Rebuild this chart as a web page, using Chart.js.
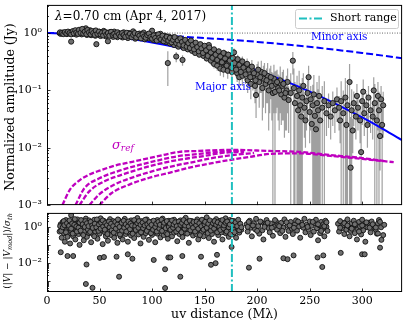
<!DOCTYPE html>
<html><head><meta charset="utf-8">
<script src="https://cdn.jsdelivr.net/npm/chart.js@4.4.1/dist/chart.umd.min.js"></script>
<style>
html,body{margin:0;padding:0;background:#fff;}
#wrap{position:relative;width:407px;height:325px;overflow:hidden;background:#fff}
canvas{position:absolute;left:0}
#c1{top:0}
#c2{top:208px}
</style></head><body>
<div id="wrap"><canvas id="c1" width="407" height="210"></canvas><canvas id="c2" width="407" height="117"></canvas></div>
<script>
// ---------- data ----------
const xTicks = [0, 50, 100, 150, 200, 250, 300];
const topYTicks = [0.001, 0.01, 0.1, 1];
const botYTicks = [0.01, 1];
const shortRange = 176;

// model curves
const modelU    = [0, 20, 40, 60, 80, 100, 120, 140, 160, 180, 200, 220, 240, 260, 280, 300, 320, 340];
const minorAxis = [1, 0.996, 0.986, 0.969, 0.945, 0.915, 0.880, 0.841, 0.797, 0.751, 0.702, 0.652, 0.600, 0.549, 0.499, 0.451, 0.404, 0.359];
const majorAxis = [1, 0.985, 0.942, 0.873, 0.786, 0.686, 0.582, 0.478, 0.381, 0.296, 0.222, 0.162, 0.115, 0.0785, 0.0523, 0.0338, 0.0212, 0.0129];

// sigma_ref curves [uv, value]
const sigRefA = [[14.7,0.00100],[21.4,0.00181],[30.9,0.00270],[40.4,0.00342],[49.9,0.00398],[64.2,0.00485],[81.3,0.0057],[106.9,0.0072],[126,0.0085],[145,0.0088],[173.5,0.0092],[211.6,0.0088],[240,0.0085],[268.5,0.0075],[297,0.0067],[320,0.0059]];
const sigRefB = [[27.1,0.00100],[35.6,0.00197],[49.9,0.00293],[68.9,0.00398],[87.9,0.00502],[106.9,0.0061],[126,0.0072],[145,0.0078],[164,0.0085],[183,0.0088]];
const sigRefC = [[30.9,0.00100],[40.4,0.00175],[54.7,0.0026],[73.7,0.0035],[92.7,0.0045],[111.7,0.0055],[130.7,0.0064],[149.7,0.0072],[168.7,0.0082],[187.6,0.0085]];
const sigRefD = [[40.4,0.00100],[49.9,0.00155],[64.2,0.00228],[83.2,0.00312],[102.2,0.00398],[121.2,0.00485],[140.2,0.0057],[159.2,0.0067],[178.2,0.0075],[197.1,0.0081]];
const sigRefE = [[49.9,0.00100],[61.3,0.00161],[78.4,0.00228],[97.4,0.00300],[116.4,0.00366],[135.5,0.0045],[154.5,0.0053],[173.5,0.0061],[192.5,0.0069],[211.6,0.0078],[240,0.0080],[270,0.0072],[300,0.0064],[330,0.0056]];

// visibilities [uv (Mλ), amplitude (Jy), error]
const visTop = [
[12,1.00,.02],[13,0.97,.02],[15,1.02,.02],[16,0.99,.02],[18,1.01,.02],[19,0.96,.02],[21,1.03,.02],[22,0.98,.02],[23,0.71,.03],[24,1.05,.03],
[26,0.97,.02],[27,1.01,.02],[28,0.94,.03],[29,1.07,.03],[31,0.99,.02],[32,1.10,.03],[33,0.95,.03],[34,1.03,.03],[35,1.15,.03],[36,1.00,.03],
[37,1.21,.04],[38,0.93,.03],[39,1.06,.03],[40,0.98,.03],[41,1.12,.03],[42,0.92,.03],[43,1.03,.03],[44,0.96,.03],[45,1.08,.03],[46,0.90,.03],
[47,0.64,.03],[48,1.02,.03],[49,0.94,.03],[50,1.05,.03],[51,0.89,.03],[52,0.99,.03],[53,0.93,.03],[54,1.09,.03],[55,0.97,.03],[56,0.88,.03],
[57,1.02,.03],[58,0.72,.04],[59,0.95,.03],[60,1.04,.03],[61,0.90,.03],[62,0.98,.03],[63,0.86,.03],[64,1.06,.03],[65,0.93,.03],[66,0.99,.03],
[67,0.85,.03],[68,1.01,.03],[69,0.91,.03],[70,0.96,.03],[72,0.84,.03],[73,1.03,.03],[74,0.89,.03],[76,0.95,.03],[77,0.82,.03],[78,1.00,.03],
[80,0.88,.03],[81,0.93,.03],[82,1.07,.04],[84,0.80,.03],[85,0.94,.03],[86,0.87,.03],[88,0.98,.03],[89,0.83,.03],[90,0.91,.03],[92,1.02,.04],
[93,0.78,.03],[94,0.88,.03],[96,0.95,.03],[97,0.81,.03],[98,0.90,.03],[100,1.10,.04],[101,0.76,.03],[102,0.86,.03],[104,0.93,.03],[105,0.79,.03],
[106,0.88,.03],[108,0.97,.04],[109,0.74,.03],[110,0.84,.03],[112,0.90,.04],[113,0.70,.03],[114,0.81,.03],[115,0.30,.18],[116,0.87,.04],[117,0.66,.03],
[118,0.77,.03],[120,0.84,.04],[121,0.62,.03],[122,0.73,.03],[123,0.39,.08],[124,0.80,.04],[125,0.58,.04],[126,0.69,.04],[128,0.76,.04],[129,0.34,.07],
[130,0.55,.04],[131,0.65,.04],[132,0.72,.04],[134,0.52,.04],[135,0.61,.04],[136,0.70,.04],[138,0.49,.04],[139,0.58,.04],[140,0.66,.04],[141,0.45,.04],
[142,0.54,.04],[144,0.62,.05],[145,0.42,.04],[146,0.51,.04],[148,0.58,.05],[149,0.40,.04],[150,0.47,.05],[151,0.55,.05],[152,0.36,.04],[153,0.44,.05],
[154,0.62,.06],[155,0.41,.05],[156,0.33,.05],[157,0.50,.05],[158,0.38,.05],[159,0.29,.05],[160,0.45,.06],[161,0.35,.05],[162,0.27,.05],[163,0.41,.06],
[164,0.32,.05],[165,0.24,.06],[166,0.38,.06],[167,0.30,.06],[168,0.23,.06],[169,0.44,.07],[170,0.28,.06],[171,0.35,.06],[172,0.22,.06],[173,0.31,.06],
[174,0.26,.06],[175,0.40,.07],[176,0.21,.06],[177,0.29,.06],[178,0.46,.08],[179,0.25,.06],[180,0.33,.07],[181,0.20,.06],[182,0.27,.06],[183,0.17,.06],
[184,0.24,.07],[185,0.30,.07],[186,0.18,.06],[188,0.22,.07],[190,0.26,.07],[191,0.15,.06],[192,0.20,.07],[194,0.13,.06],[195,0.23,.08],[196,0.17,.07],
[198,0.12,.06],[199,0.083,.05],[200,0.19,.10],[202,0.14,.09],[204,0.21,.12],[205,0.11,.08],[206,0.16,.11],[208,0.13,.09],[210,0.18,.12],[211,0.10,.08],
[212,0.14,.10],[214,0.12,.09],[215,0.09,.11],[216,0.16,.12],[217,0.094,.12],[218,0.13,.09],[220,0.11,.08],[222,0.15,.11],[223,0.085,.06],[224,0.12,.09],
[226,0.075,.06],[228,0.10,.08],[229,0.14,.10],[230,0.068,.05],[232,0.09,.11],[234,0.33,.14],[235,0.11,.13],[236,0.06,.08],[238,0.08,.10],[239,0.045,.07],
[240,0.10,.12],[241,0.055,.08],[242,0.035,.06],[243,0.075,.09],[244,0.12,.08],[245,0.05,.035],[246,0.03,.02],[247,0.065,.045],[248,0.09,.06],[249,0.17,.10],
[250,0.042,.03],[251,0.07,.05],[252,0.026,.018],[253,0.055,.07],[254,0.085,.10],[255,0.036,.05],[256,0.021,.04],[257,0.06,.08],[258,0.045,.06],[259,0.08,.10],
[260,0.03,.05],[262,0.05,.07],[264,0.065,.08],[266,0.04,.024],[268,0.055,.033],[270,0.035,.021],[272,0.06,.036],[274,0.045,.027],[276,0.07,.042],[278,0.05,.03],
[279,0.03,.018],[280,0.065,.08],[282,0.04,.06],[284,0.075,.09],[285,0.025,.04],[286,0.055,.07],[288,0.14,.15],[289,0.0045,.03],[290,0.045,.06],[291,0.02,.012],
[292,0.06,.036],[294,0.035,.021],[295,0.08,.05],[296,0.05,.03],[298,0.03,.018],[299,0.0084,.02],[300,0.065,.04],[301,0.095,.06],[302,0.04,.024],[304,0.055,.033],
[305,0.025,.015],[306,0.075,.045],[308,0.045,.027],[310,0.035,.021],[311,0.10,.07],[312,0.06,.07],[314,0.03,.04],[315,0.08,.06],[316,0.045,.05],[317,0.016,.012],
[318,0.07,.05],[319,0.025,.03],[320,0.055,.04],
[12.5,1.03,.02],[14,1.00,.02],[15.5,0.96,.02],[17,1.04,.02],[18.5,0.98,.02],[20,1.06,.02],[21.5,1.00,.02],[23,0.95,.02],[24.5,1.08,.03],[25.5,0.99,.02],
[27,1.12,.03],[28,1.02,.02],[29.5,0.97,.02],[30.5,1.14,.03],[32,1.01,.02],[33.5,1.18,.03],[34.5,0.98,.03],[36,1.06,.03],[37.5,0.96,.03],[38.5,1.13,.03],
[40,1.03,.03],[41.5,0.95,.03],[42.5,1.08,.03],[44,1.00,.03],[45.5,0.93,.03],[46.5,1.11,.03],[48,0.97,.03],[49.5,1.06,.03],[51,0.95,.03],[52.5,1.02,.03],
[53.5,0.91,.03],[55,1.04,.03],[56.5,0.94,.03],[58,1.00,.03],[59.5,0.90,.03],[61,1.05,.03],[62.5,0.93,.03],[64,0.97,.03],[65.5,0.89,.03],[67,1.03,.03],
[68.5,0.95,.03],[70,0.88,.03],[71.5,1.00,.03],[73,0.92,.03],[74.5,0.86,.03],[76,1.01,.03],[77.5,0.90,.03],[79,0.97,.03],[80.5,0.85,.03],[82,0.93,.03],
[83.5,1.00,.03],[85,0.84,.03],[86.5,0.96,.03],[88,0.90,.03],[89.5,0.81,.03],[91,0.95,.03],[92.5,0.87,.03],[94,0.83,.03],[95.5,0.92,.03],[97,0.98,.04],
[98.5,0.85,.03],[100,0.80,.03],[101.5,0.91,.03],[103,0.82,.03],[104.5,0.74,.03],[106,0.95,.04],[107,0.83,.03],[108.5,0.78,.03],[110,0.90,.04],[111,0.72,.03],
[112.5,0.80,.03],[114,0.86,.04],[115.5,0.74,.03],[117,0.82,.04],[118.5,0.69,.03],[120,0.76,.04],[121.5,0.85,.04],[123,0.67,.04],[124.5,0.74,.04],[126,0.63,.04],
[127,0.81,.04],[128.5,0.70,.04],[130,0.61,.04],[131.5,0.76,.04],[133,0.58,.04],[134.5,0.67,.04],[136,0.55,.04],[137,0.74,.04],[138.5,0.62,.04],[140,0.52,.04],
[141.5,0.68,.04],[143,0.57,.04],[144.5,0.48,.04],[146,0.64,.05],[147,0.54,.04],[148.5,0.45,.04],[150,0.60,.05],[151.5,0.50,.05],[153,0.40,.05],[154.5,0.56,.05],
[156,0.46,.05],[157.5,0.37,.05],[159,0.52,.05],[160.5,0.42,.05],[162,0.34,.05],[163.5,0.48,.06],[165,0.39,.06],[166.5,0.31,.05],[168,0.45,.06],[169.5,0.36,.06],
[171,0.27,.06],[172.5,0.42,.06],[174,0.33,.06],[175.5,0.25,.06],[177,0.37,.06],[178.5,0.30,.06],[180,0.23,.06],[181.5,0.35,.07],[183,0.28,.07],[184.5,0.21,.06],
[186,0.32,.07],[187,0.25,.07],[189,0.19,.06],[190.5,0.29,.07],[192,0.23,.07],[193.5,0.17,.06],[195,0.26,.08],[197,0.20,.07],[198.5,0.15,.07],[201,0.23,.09],
[203,0.17,.08],[207,0.20,.10],[209,0.15,.09],[213,0.17,.10],[219,0.14,.09],[221,0.10,.08],[225,0.13,.10],[227,0.09,.07]
];

// normalized residuals [uv (Mλ), |V|-|Vmod| / sigma_th]
const residBot = [
[12,0.55],[13,1.4],[14,0.8],[14,0.25],[15,1.9],[16,0.45],[17,1.1],[17,0.15],[18,2.4],[19,0.7],[20,1.3],[20,0.35],[21,0.9],[22,1.7],[22,0.12],[23,4.5],[23,0.6],[24,1.2],[25,0.3],[25,2.0],
[26,0.85],[27,1.5],[27,0.2],[28,0.65],[29,2.6],[29,1.0],[30,0.4],[30,1.6],
[31,0.1],[31,0.75],[32,1.25],[33,2.2],[33,0.5],[34,0.95],[35,0.18],[35,1.8],[36,0.6],[37,1.35],[37,2.9],[38,0.28],[38,0.85],[39,1.5],[40,0.45],[40,2.3],[41,1.05],[42,0.14],[42,0.7],[43,1.7],[44,0.38],[44,1.15],
[45,2.5],[46,0.55],[46,0.9],[47,1.45],[48,0.22],[48,2.0],[49,0.8],[50,1.25],[50,0.42],[51,3.0],[52,0.65],[52,1.6],[53,0.11],[54,1.0],[54,2.2],[55,0.5],[56,1.35],[56,0.3],[57,0.85],[58,1.9],[58,0.17],[59,1.1],[60,0.6],[60,2.7],
[61,0.35],[62,1.45],[62,0.9],[63,2.1],[64,0.25],[64,0.7],[65,1.2],[66,1.75],[66,0.45],[67,0.13],[68,1.0],[68,2.4],[69,0.55],[70,1.5],[70,0.3],[71,0.85],[72,1.95],[72,0.2],[73,1.15],[74,0.62],[74,2.8],[75,0.4],[76,1.3],[76,0.9],[77,0.15],[78,1.7],[78,0.5],[79,1.05],[80,2.3],[80,0.33],
[81,0.75],[82,1.4],[83,0.24],[83,0.95],[84,1.85],[85,0.55],[86,1.2],[86,3.1],[87,0.38],[88,0.8],[88,1.6],[89,0.12],[90,1.05],[90,2.1],[91,0.6],[92,1.35],[92,0.28],[93,0.9],[94,1.8],[94,0.45],[95,2.6],[96,0.7],[96,1.15],[97,0.19],[98,1.5],[98,0.52],[99,0.95],[100,2.0],[100,0.36],
[101,1.25],[102,0.65],[103,1.7],[103,0.14],[104,0.88],[105,2.4],[105,0.42],[106,1.1],[107,0.58],[108,1.55],[108,0.26],[109,0.82],[110,2.9],[110,1.3],[111,0.35],[112,0.72],[113,1.9],[113,0.5],[114,1.05],[115,0.22],[116,1.45],[116,2.2],[117,0.62],[118,0.95],[119,1.7],[119,0.3],[120,1.2],
[121,0.48],[121,2.5],[122,0.8],[123,1.4],[124,0.16],[124,0.68],[125,1.85],[126,1.0],[126,0.4],[127,2.3],[128,0.58],[129,1.25],[129,0.27],[130,0.9],[131,1.6],[132,0.45],[132,3.2],[133,1.1],[134,0.7],[135,0.13],[135,1.95],[136,0.52],[137,1.3],[138,0.85],[138,2.1],[139,0.33],[140,1.05],[140,0.6],
[141,1.7],[142,0.4],[143,2.6],[143,0.92],[144,0.2],[145,1.35],[146,0.65],[146,1.9],[147,0.48],[148,1.15],[149,2.3],[149,0.3],[150,0.8],[151,1.5],[152,0.56],[152,3.4],[153,1.0],[154,0.24],[155,1.75],[155,0.7],[156,1.25],[157,0.4],[158,2.0],[158,0.9],[159,0.15],[160,1.45],
[161,0.62],[161,2.7],[162,1.1],[163,0.35],[164,0.8],[164,1.6],[165,2.2],[166,0.5],[167,1.3],[167,0.2],[168,0.95],[169,1.85],[170,0.45],[170,3.0],[171,1.15],[172,0.68],[173,0.28],[173,1.5],[174,2.4],[175,0.85],[175,0.55],[176,1.7],[177,0.38],[177,1.05],[178,2.1],[179,0.6],[180,1.35],[180,0.25],
[181,0.9],[182,1.9],[183,0.48],[184,1.2],[185,0.7],
[190,1.4],[191,0.55],[193,2.2],[194,0.9],[195,0.3],[197,1.6],[198,0.75],[199,2.8],[201,1.1],[202,0.42],[204,1.8],[205,0.65],[206,0.2],[208,1.3],[209,2.4],[211,0.85],[212,0.5],[213,1.55],[215,0.32],[216,1.0],[218,2.0],[219,0.7],[220,1.25],[222,0.45],[223,1.7],[225,0.9],[226,2.6],[227,0.28],[229,1.15],[230,0.6],
[232,1.9],[233,0.8],[234,0.4],[236,1.4],[237,2.3],[238,0.62],[240,1.05],[241,0.25],[242,1.7],[244,0.9],[245,2.8],[246,0.5],[247,1.3],[249,0.7],[250,2.0],[251,0.35],[252,1.15],[254,0.55],[255,1.6],[256,2.5],[257,0.85],[258,0.18],[259,1.25],[260,0.45],[261,1.9],[262,0.75],[263,1.4],[264,0.3],[265,2.2],[266,1.0],[267,0.6],
[277,1.5],[278,0.55],[279,2.1],[281,0.85],[282,1.3],[283,0.4],[284,1.8],[285,0.7],[286,2.6],[287,1.1],[288,0.3],[289,0.6],[290,1.6],[291,0.9],[292,2.2],[293,0.45],[294,1.25],[295,0.2],[296,0.75],[297,1.9],[298,1.05],[299,0.38],[300,2.5],[301,0.65],[302,1.4],[303,0.15],[305,0.95],[306,1.7],[308,0.5],[309,2.0],[311,1.2],[312,0.8],[314,0.42],[315,1.55],[316,2.4],[318,0.95],[320,0.35],[321,1.3],
[12.5,1.1],[13.5,0.6],[15,0.95],[16,2.1],[16.5,1.25],[18,0.5],[19,1.6],[19.5,0.28],[21,1.15],[21.5,2.3],[23,0.8],[24,1.55],[24.5,0.42],[26,1.3],[26.5,2.7],[28,1.05],[28.5,0.55],[30,0.9],[31,1.75],[32,0.62],
[32.5,2.4],[34,1.4],[34.5,0.35],[36,1.0],[36.5,2.1],[38,1.6],[39,0.7],[39.5,1.1],[41,0.52],[41.5,1.9],[43,1.2],[43.5,0.88],[45,0.3],[45.5,1.5],[47,0.95],[47.5,2.6],[49,0.6],[49.5,1.35],[51,0.8],[51.5,1.7],
[53,2.3],[53.5,1.05],[55,0.7],[55.5,1.6],[57,1.25],[57.5,0.4],[59,2.0],[59.5,0.95],[61,1.5],[61.5,0.65],[63,1.1],[63.5,0.48],[65,1.9],[65.5,0.8],[67,1.35],[67.5,2.6],[69,1.0],[69.5,0.38],[71,1.7],[71.5,0.62],
[73,2.2],[73.5,0.9],[75,1.4],[75.5,0.55],[77,1.05],[77.5,2.0],[79,0.75],[79.5,1.55],[81,1.2],[81.5,0.42],[83,2.4],[84,1.1],[84.5,0.68],[86,1.6],[87,0.9],[87.5,2.1],[89,1.3],[89.5,0.5],[91,1.75],[91.5,0.85],
[93,1.2],[93.5,2.5],[95,0.6],[95.5,1.4],[97,0.95],[97.5,1.85],[99,0.45],[99.5,1.3],[101,0.7],[101.5,2.2],[103,1.0],[104,1.5],[104.5,0.55],[106,1.9],[107,0.8],[107.5,1.3],[109,2.5],[109.5,0.6],[111,1.15],[111.5,1.7],
[113,0.85],[114,2.1],[114.5,0.4],[116,1.0],[117,1.5],[117.5,0.7],[119,2.3],[120,0.9],[120.5,1.35],[122,1.8],[123,0.55],[123.5,1.1],[125,0.75],[125.5,2.0],[127,1.3],[128,0.5],[128.5,1.65],[130,2.4],[131,0.8],[131.5,1.2],
[133,1.75],[133.5,0.42],[135,1.05],[136,2.2],[136.5,0.65],[138,1.4],[139,0.9],[139.5,1.85],[141,0.55],[142,1.25],[142.5,2.0],[144,0.8],[145,1.6],[145.5,0.35],[147,1.1],[147.5,2.5],[149,0.7],[150,1.35],[150.5,1.9],[152,0.9],
[153,0.45],[153.5,1.5],[155,2.3],[156,0.62],[156.5,1.05],[158,1.6],[159,0.8],[159.5,2.1],[161,1.3],[162,0.5],[162.5,1.8],[164,1.0],[165,0.68],[165.5,1.5],[167,2.4],[168,0.85],[168.5,1.2],[170,1.7],[171,0.55],[171.5,2.0],
[173,0.95],[174,1.35],[174.5,0.4],[176,2.2],[177,0.75],[178,1.3],[178.5,0.5],[179.5,1.8],[181,1.1],[182,2.5],[183,0.65],[184,1.5],[185,0.95],
[191,1.0],[192,1.9],[196,1.2],[200,0.6],[203,2.0],[207,1.0],[210,1.7],[214,0.9],[217,2.4],[221,1.1],[224,0.6],[228,1.8],[231,1.2],[235,0.9],[239,2.0],[243,1.3],[248,1.0],[253,1.9],[258,1.4],[261,0.6],
[264,1.1],[266,1.8],[279,0.9],[283,1.6],[286,1.2],[290,0.8],[293,1.4],[297,0.55],[300,1.2],[304,1.8],[307,0.9],[310,1.4],[313,0.7],[317,1.9],
// outliers
[13.1,0.039],[19.5,0.024],[24.9,0.024],[37.6,0.0081],[37,0.00067],[43.3,0.00041],[50.3,0.019],[54.2,0.021],[66.2,0.022],[68.6,0.0017],[76.9,0.030],[81.3,0.017],[101.6,0.0145],[112.4,0.0044],[112.4,0.0004],[115.5,0.020],[117.4,0.020],[126.9,0.0017],[128.8,0.024],[146.6,0.022],
[156.1,0.0078],[160.5,0.0096],[161.8,0.028],[175.7,0.076],[192.2,0.0054],[202.3,0.017],[225,0.018],[229,0.016],[234.7,0.026],[257.5,0.020],[262,0.0059],[263,0.026],[279.6,0.036],[299.9,0.030],[302.4,0.030],[317,0.070],[318.3,0.19],[315,0.43],[313,0.92]
];

// ---------- helpers ----------
const FONT = 'DejaVu Serif';
const SUP = {'0':'\u2070','1':'\u00B9','2':'\u00B2','3':'\u00B3','4':'\u2074','-':'\u207B'};
function powLabel(v){ const e = Math.round(Math.log10(v)); return '10' + String(e).split('').map(c => SUP[c]).join(''); }
function logTickList(min, max){
  const out = [];
  for (let e = Math.floor(Math.log10(min)); e <= Math.ceil(Math.log10(max)); e++)
    for (let k = 1; k < 10; k++){ const v = k * Math.pow(10, e); if (v >= min * 0.999 && v <= max) out.push({v, major: k === 1}); }
  return out;
}
const frame = {
  id: 'frame',
  afterDraw(chart){
    const {ctx, chartArea: a, scales: {x, y}} = chart;
    ctx.save();
    ctx.strokeStyle = '#000'; ctx.lineWidth = 1;
    ctx.strokeRect(a.left + 0.5, a.top + 0.5, a.right - a.left - 1, a.bottom - a.top - 1);
    ctx.beginPath();
    xTicks.forEach(v => { const px = Math.round(x.getPixelForValue(v)) + 0.5; ctx.moveTo(px, a.bottom); ctx.lineTo(px, a.bottom - 3.5); });
    logTickList(y.min, y.max).forEach(t => { const py = Math.round(y.getPixelForValue(t.v)) + 0.5; ctx.moveTo(a.left, py); ctx.lineTo(a.left + (t.major ? 3.5 : 2), py); });
    ctx.lineWidth = 0.8; ctx.stroke();
    ctx.restore();
  }
};
const errorBars = {
  id: 'errorBars',
  beforeDatasetsDraw(chart){
    const {ctx, chartArea: a, scales: {x, y}} = chart;
    ctx.save();
    ctx.beginPath(); ctx.rect(a.left, a.top, a.right - a.left, a.bottom - a.top); ctx.clip();
    ctx.strokeStyle = 'rgba(128,128,128,0.75)'; ctx.lineWidth = 1.2;
    ctx.beginPath();
    visTop.forEach(([u, amp, err]) => {
      const px = x.getPixelForValue(u);
      const lo = amp - err;
      const ylo = lo > 0 ? y.getPixelForValue(lo) : a.bottom + 5;
      const yhi = y.getPixelForValue(amp + err);
      ctx.moveTo(px, ylo); ctx.lineTo(px, yhi);
    });
    ctx.stroke();
    ctx.restore();
  }
};
function drawPieces(ctx, pieces, cx, cy){
  let total = 0;
  pieces.forEach(p => { ctx.font = p.f; p.w = ctx.measureText(p.t).width; total += p.w; });
  let xx = cx - total / 2;
  pieces.forEach(p => { ctx.font = p.f; ctx.fillText(p.t, xx, cy + (p.dy || 0)); xx += p.w; });
}
const topText = {
  id: 'topText',
  afterDraw(chart){
    const ctx = chart.ctx;
    ctx.save();
    ctx.textBaseline = 'middle'; ctx.textAlign = 'left'; ctx.fillStyle = '#000';
    ctx.font = 'italic 12px ' + FONT; ctx.fillText('\u03BB', 55, 17);
    const lw = ctx.measureText('\u03BB').width;
    ctx.font = '12px ' + FONT; ctx.fillText('=0.70 cm (Apr 4, 2017)', 55 + lw, 17);
    ctx.fillStyle = '#0000ff'; ctx.font = '10.5px ' + FONT;
    ctx.fillText('Minor axis', 311, 37);
    ctx.fillText('Major axis', 195, 87);
    ctx.fillStyle = '#bf00bf';
    ctx.font = 'italic 13px ' + FONT; ctx.fillText('\u03C3', 112, 146);
    const sw = ctx.measureText('\u03C3').width;
    ctx.font = 'italic 9px ' + FONT; ctx.fillText('ref', 112 + sw, 149);
    ctx.fillStyle = 'rgba(255,255,255,0.85)'; ctx.strokeStyle = '#cccccc'; ctx.lineWidth = 1;
    ctx.beginPath(); ctx.roundRect(295.5, 9.5, 103, 19, 2); ctx.fill(); ctx.stroke();
    ctx.strokeStyle = '#1fbfbf'; ctx.lineWidth = 2; ctx.setLineDash([8, 2.5, 2, 2.5]);
    ctx.beginPath(); ctx.moveTo(299, 18.5); ctx.lineTo(323, 18.5); ctx.stroke(); ctx.setLineDash([]);
    ctx.fillStyle = '#000'; ctx.font = '11px ' + FONT; ctx.fillText('Short range', 330, 18.5);
    ctx.translate(11, 107); ctx.rotate(-Math.PI / 2); ctx.textAlign = 'center';
    ctx.font = '12.5px ' + FONT; ctx.fillText('Normalized amplitude (Jy)', 0, 0);
    ctx.restore();
  }
};
const botText = {
  id: 'botText',
  afterDraw(chart){
    const ctx = chart.ctx;
    ctx.save();
    ctx.fillStyle = '#000'; ctx.textBaseline = 'middle'; ctx.textAlign = 'left';
    ctx.translate(8, 43); ctx.rotate(-Math.PI / 2);
    const n = '9px ' + FONT, it = 'italic 9px ' + FONT, sb = 'italic 6.5px ' + FONT;
    drawPieces(ctx, [
      {t:'(|', f:n}, {t:'V', f:it}, {t:'| \u2212 |', f:n}, {t:'V', f:it}, {t:'mod', f:sb, dy:2}, {t:'|)/', f:n}, {t:'\u03C3', f:it}, {t:'th', f:sb, dy:2}
    ], 0, 0);
    ctx.restore();
  }
};

const pointStyle = {pointRadius: 2.6, pointBackgroundColor: '#6f6f6f', pointBorderColor: '#111', pointBorderWidth: 0.9, showLine: false};
const lineBase = {showLine: true, pointRadius: 0, fill: false};
function sigDS(arr){ return Object.assign({}, lineBase, {data: arr.map(([u, v]) => ({x: u, y: v})), borderColor: '#bf00bf', borderWidth: 2.3, borderDash: [5, 2], cubicInterpolationMode: 'monotone', order: 4}); }
const common = {
  responsive: false, animation: false, devicePixelRatio: 1, events: [],
  plugins: {legend: {display: false}, tooltip: {enabled: false}}
};
function yScale(min, max, ticks){
  return {type: 'logarithmic', min, max, bounds: 'data',
    afterFit(s){ s.width = 47; s.paddingTop = 0; s.paddingBottom = 0; },
    afterBuildTicks(s){ s.ticks = ticks.map(v => ({value: v})); },
    ticks: {callback: v => powLabel(v), font: {family: FONT, size: 11}, color: '#000', padding: 5},
    grid: {display: false, drawTicks: false}, border: {display: false}};
}

new Chart(document.getElementById('c1'), {
  type: 'scatter',
  data: {datasets: [
    Object.assign({}, lineBase, {label: 'Short range', data: [{x: shortRange, y: 0.001}, {x: shortRange, y: 3.1}], borderColor: '#1fbfbf', borderWidth: 2, borderDash: [8, 2.5, 2, 2.5], order: 0}),
    Object.assign({}, pointStyle, {label: 'data', data: visTop.map(([u, a]) => ({x: u, y: a})), order: 1}),
    Object.assign({}, lineBase, {label: 'Minor axis', data: modelU.map((u, i) => ({x: u, y: minorAxis[i]})), borderColor: '#0000ff', borderWidth: 2, borderDash: [7, 3], cubicInterpolationMode: 'monotone', order: 2}),
    Object.assign({}, lineBase, {label: 'Major axis', data: modelU.map((u, i) => ({x: u, y: majorAxis[i]})), borderColor: '#0000ff', borderWidth: 2, cubicInterpolationMode: 'monotone', order: 2}),
    Object.assign({}, lineBase, {label: 'unity', data: [{x: 0, y: 1}, {x: 338, y: 1}], borderColor: '#666', borderWidth: 1, borderDash: [1, 1.5], order: 3}),
    sigDS(sigRefA), sigDS(sigRefB), sigDS(sigRefC), sigDS(sigRefD), sigDS(sigRefE)
  ]},
  options: Object.assign({}, common, {
    layout: {padding: {left: 0, right: 4, top: 3, bottom: 3}},
    scales: {
      x: {type: 'linear', min: 0, max: 338, display: false},
      y: yScale(0.001, 3.1, topYTicks)
    }
  }),
  plugins: [errorBars, frame, topText]
});

new Chart(document.getElementById('c2'), {
  type: 'scatter',
  data: {datasets: [
    Object.assign({}, lineBase, {label: 'Short range', data: [{x: shortRange, y: 2.4e-4}, {x: shortRange, y: 6}], borderColor: '#1fbfbf', borderWidth: 2, borderDash: [8, 2.5, 2, 2.5], order: 0}),
    Object.assign({}, pointStyle, {label: 'resid', data: residBot.map(([u, v]) => ({x: u, y: v})), pointRadius: 2.5, order: 5})
  ]},
  options: Object.assign({}, common, {
    layout: {padding: {left: 0, right: 4, top: 3, bottom: 0}},
    scales: {
      x: {type: 'linear', min: 0, max: 338,
        afterFit(s){ s.height = 33; s.paddingLeft = 0; s.paddingRight = 0; },
        afterBuildTicks(s){ s.ticks = xTicks.map(v => ({value: v})); },
        ticks: {font: {family: FONT, size: 11}, color: '#000', padding: 3, maxRotation: 0, autoSkip: false},
        grid: {display: false, drawTicks: false}, border: {display: false},
        title: {display: true, text: 'uv distance (M\u03BB)', font: {family: FONT, size: 12.5}, color: '#000', padding: {top: 0, bottom: 3}}},
      y: yScale(2.4e-4, 6, botYTicks)
    }
  }),
  plugins: [frame, botText]
});
</script>
</body></html>
